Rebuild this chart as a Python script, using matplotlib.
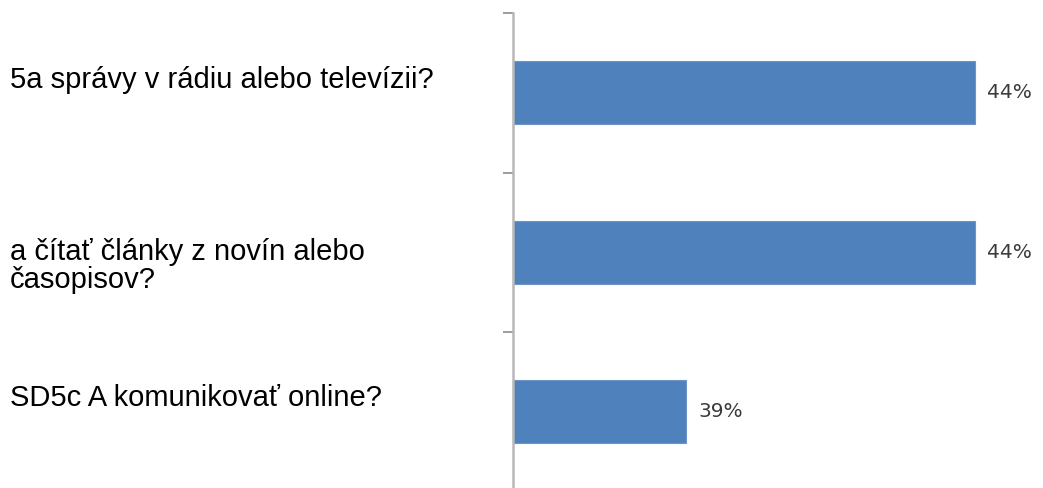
import matplotlib.pyplot as plt

# odpovede a podiely (v %)
categories = [
    "5a správy v rádiu alebo televízii?",
    "a čítať články z novín alebo\nčasopisov?",
    "SD5c A komunikovať online?",
]
values = [44, 44, 39]
value_labels = ["44%", "44%", "39%"]

W, H = 1043, 488
fig = plt.figure(figsize=(W / 100, H / 100), dpi=100)
fig.patch.set_facecolor("white")

# graf začína od 36 %, nie od nuly
ax = fig.add_axes([513 / W, -3.5 / H, (W - 513) / W, 478.5 / H])
pos = list(range(len(categories)))
ax.barh(pos, values, height=0.395, color="#4f81bd", edgecolor="#6f95c8",
        linewidth=0.8, left=0)
ax.set_xlim(36, 45.17)
ax.set_ylim(2.5, -0.5)

for p, v, lab in zip(pos, values, value_labels):
    ax.text(v + 0.2, p, lab, va="center", ha="left", fontsize=14.5,
            color="#3a3a3a", family="DejaVu Sans")

# iba ľavá os s ryskami medzi kategóriami
for s in ["top", "right", "bottom"]:
    ax.spines[s].set_visible(False)
ax.spines["left"].set_color("#b8b8b8")
ax.spines["left"].set_linewidth(1.8)
ax.set_xticks([])
ax.set_yticks([-0.5, 0.5, 1.5])
ax.set_yticklabels([])
ax.tick_params(axis="y", length=7, width=1.2, color="#8c8c8c", direction="out")

# popisy otázok vľavo
label_y = [1 - 80 / H, 1 - 266 / H, 1 - 398 / H]
for txt, y in zip(categories, label_y):
    fig.text(10 / W, y, txt, ha="left", va="center", fontsize=21,
             family="Liberation Sans", color="black", linespacing=1.0)

fig.savefig("out.png", dpi=100, facecolor="white")
